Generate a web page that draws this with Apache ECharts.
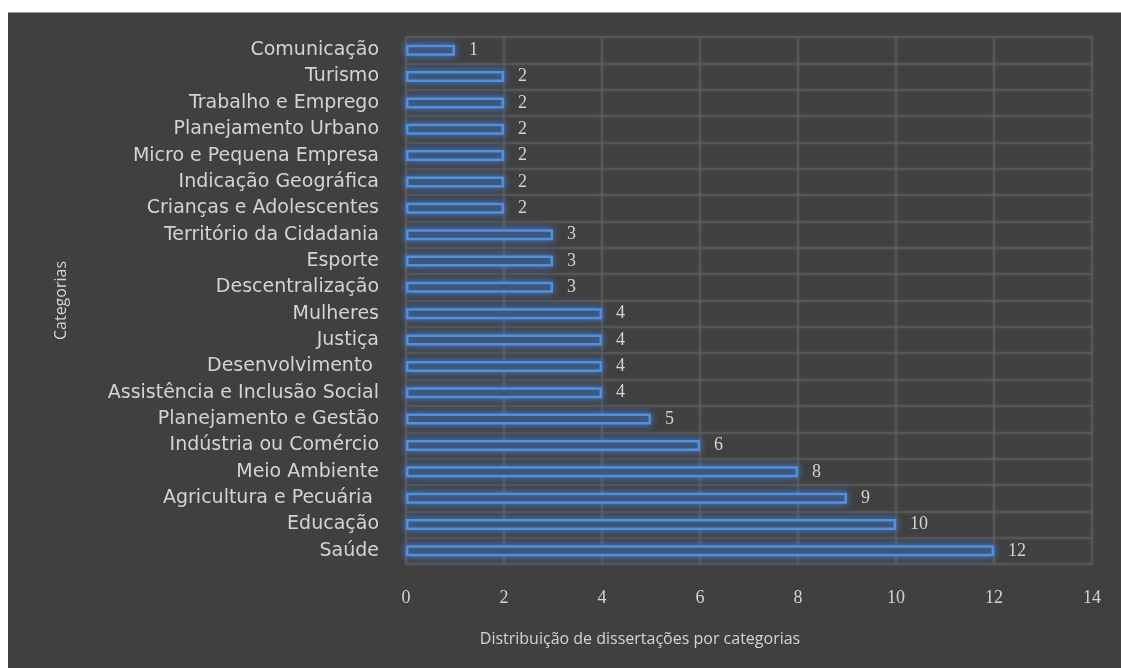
<!DOCTYPE html>
<html>
<head>
<meta charset="utf-8">
<script src="https://cdn.jsdelivr.net/npm/echarts@6/dist/echarts.min.js"></script>
<style>
html,body{margin:0;padding:0;background:#ffffff;width:1121px;height:668px;overflow:hidden;}
#main{position:absolute;left:8px;top:12px;width:1113px;height:656px;background:#404040;border-top:1px solid #9a9a9a;box-sizing:border-box;}
</style>
</head>
<body>
<div id="main"></div>
<script>
// Categories listed bottom to top (ECharts category axis starts at the bottom)
const categories = [
  'Saúde', 'Educação', 'Agricultura e Pecuária ', 'Meio Ambiente', 'Indústria ou Comércio',
  'Planejamento e Gestão', 'Assistência e Inclusão Social', 'Desenvolvimento ', 'Justiça', 'Mulheres',
  'Descentralização', 'Esporte', 'Território da Cidadania', 'Crianças e Adolescentes', 'Indicação Geográfica',
  'Micro e Pequena Empresa', 'Planejamento Urbano', 'Trabalho e Emprego', 'Turismo', 'Comunicação'
];
const values = [12, 10, 9, 8, 6, 5, 4, 4, 4, 4, 3, 3, 3, 2, 2, 2, 2, 2, 2, 1];
const xTicks = [0, 2, 4, 6, 8, 10, 12, 14];
const xAxisTitle = 'Distribuição de dissertações por categorias';
const yAxisTitle = 'Categorias';

const chart = echarts.init(document.getElementById('main'), null, {renderer: 'canvas'});
const textColor = '#d4d4d4';
const gridLine = {color: '#5a5a5a', width: 1.5, shadowBlur: 3, shadowColor: 'rgba(120,120,120,0.6)'};
const option = {
  backgroundColor: '#404040',
  animation: false,
  grid: {left: 398, top: 24, right: 29, bottom: 104, containLabel: false},
  xAxis: {
    type: 'value',
    min: xTicks[0],
    max: xTicks[xTicks.length - 1],
    interval: 2,
    axisLine: {show: false},
    axisTick: {show: false},
    axisLabel: {color: textColor, fontFamily: 'Liberation Serif', fontSize: 18, margin: 25},
    splitLine: {show: true, lineStyle: gridLine},
    name: xAxisTitle,
    nameLocation: 'middle',
    nameGap: 67,
    nameTextStyle: {color: textColor, fontFamily: 'Open Sans', fontSize: 16, padding: [0, 218, 0, 0]}
  },
  yAxis: {
    type: 'category',
    data: categories,
    axisLine: {show: true, lineStyle: {color: '#5a5a5a', width: 1.5}},
    axisTick: {show: false},
    axisLabel: {color: textColor, fontFamily: 'DejaVu Sans', fontSize: 19, margin: 27, interval: 0},
    splitLine: {show: true, lineStyle: gridLine},
    name: yAxisTitle,
    nameLocation: 'middle',
    nameGap: 337,
    nameRotate: 90,
    nameTextStyle: {color: textColor, fontFamily: 'Open Sans', fontSize: 16}
  },
  series: [{
    type: 'bar',
    data: values,
    barWidth: 11,
    itemStyle: {
      color: '#3b4756',
      borderColor: '#5090e0',
      borderWidth: 2.5,
      shadowBlur: 8,
      shadowColor: 'rgba(70,130,220,0.9)'
    },
    label: {
      show: true,
      position: 'right',
      distance: 14,
      color: textColor,
      fontFamily: 'Liberation Serif',
      fontSize: 18
    }
  }]
};
chart.setOption(option);
</script>
</body>
</html>
